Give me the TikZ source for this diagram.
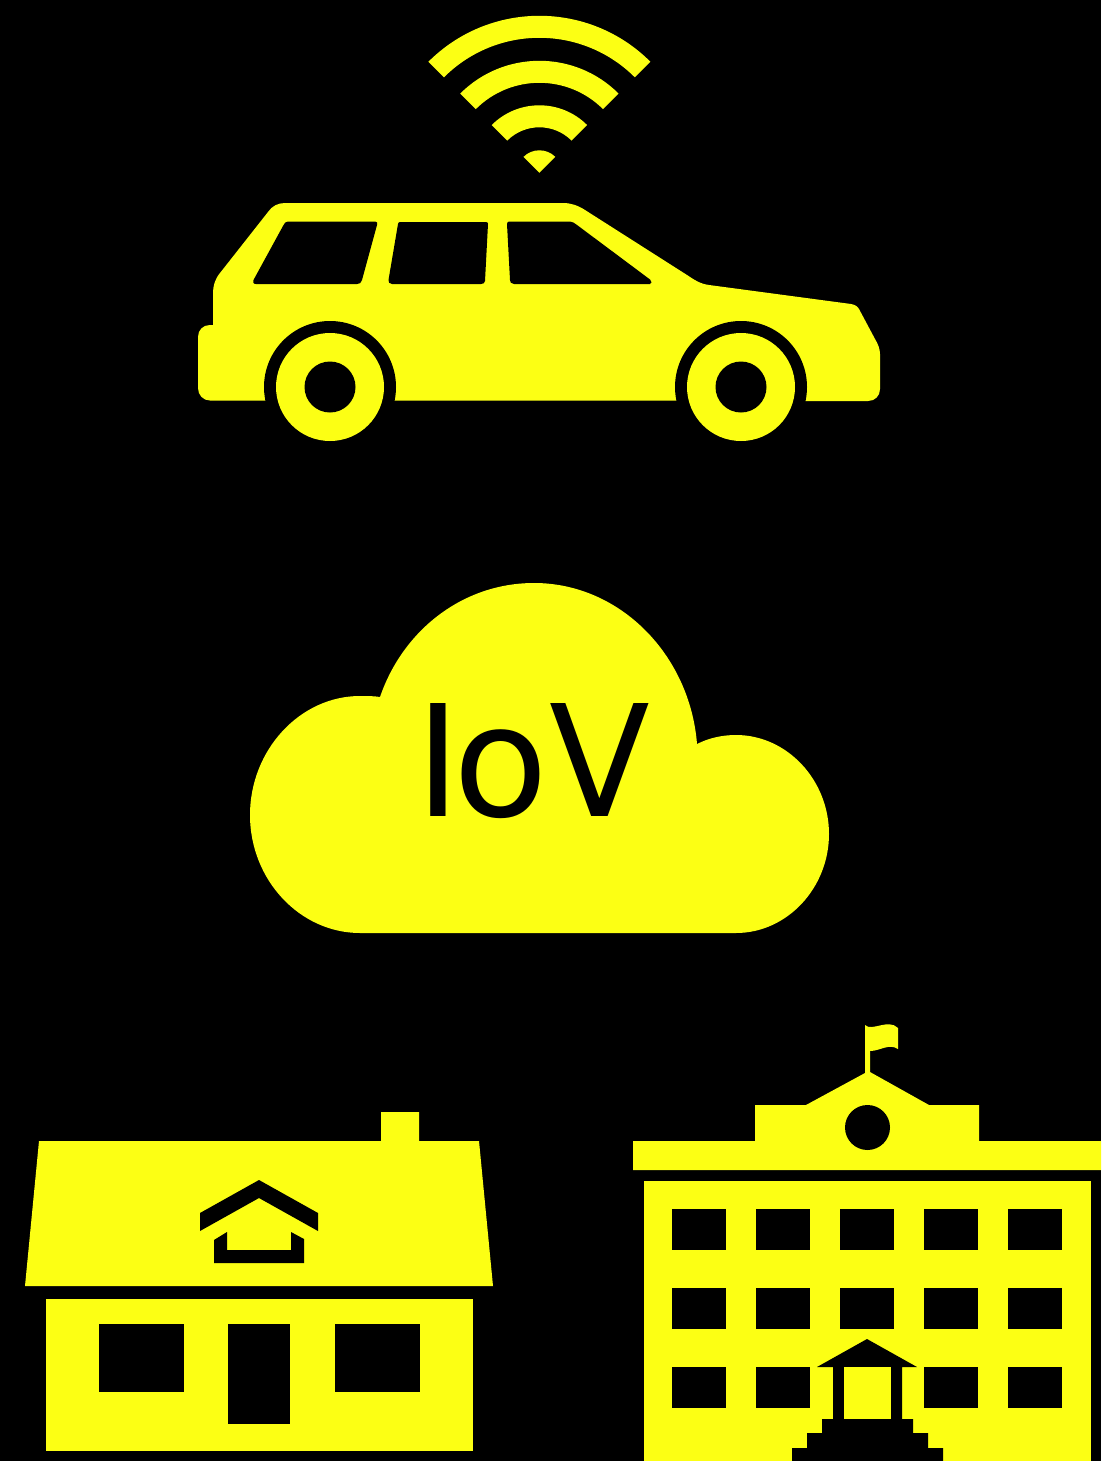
\documentclass[tikz,border=0pt]{standalone}
\usepackage{fontspec}
\usepackage{graphicx}
\setmainfont{DejaVu Sans}
\definecolor{iconyellow}{RGB}{252,255,20}
\tikzset{
  yel/.style={fill=iconyellow,draw=none},
  blk/.style={fill=black,draw=none}
}
\newcommand{\wifiband}[2]{%
  \fill[iconyellow] ($(539.4,172.8)+(225:#1)$) arc[start angle=225,end angle=315,radius=#1] -- ($(539.4,172.8)+(315:#2)$) arc[start angle=315,end angle=225,radius=#2] -- cycle;}
\usetikzlibrary{calc}
\begin{document}
\begin{tikzpicture}[x=1pt,y=1pt,yscale=-1]
\useasboundingbox (0,0) rectangle (1101,1461);
\fill[black] (0,0) rectangle (1101,1461);
% wifi
\wifiband{157pt}{135pt}
\wifiband{112pt}{90pt}
\wifiband{67.5pt}{45.5pt}
\fill[iconyellow] (539.4,172.8) -- ($(539.4,172.8)+(225:22.5pt)$) arc[start angle=225,end angle=315,radius=22.5pt] -- cycle;
% car body
\path[yel] (198,337) .. controls (198,330) and (203,325) .. (210,325) -- (213,325)
 -- (213,293) .. controls (213,286) and (215,279) .. (220,273)
 -- (268,212) .. controls (272,206) and (278,203) .. (285,203)
 -- (563,203) .. controls (571,203) and (578,205.5) .. (585,210)
 -- (687,275) .. controls (693,279) and (700,284) .. (709,285)
 -- (851,304) .. controls (855,304.5) and (858,307) .. (859,309)
 -- (875,339) .. controls (878,344) and (880,349) .. (880,354)
 -- (880,389) .. controls (880,396) and (875,401) .. (868,401)
 -- (741,401) -- (741,400.5) -- (210,400.5) .. controls (203,400.5) and (198,395) .. (198,388) -- cycle;
% windows
\path[blk] (288,221.5) -- (375,221.5) .. controls (377,221.5) and (378,223) .. (377,225)
 -- (362,280) .. controls (361,283) and (360,284) .. (357,284) -- (256,284) .. controls (253,284) and (252.5,282) .. (253.5,280)
 -- (283,226) .. controls (284,223) and (286,221.5) .. (288,221.5) -- cycle;
\path[blk] (400,222) -- (486,222) .. controls (487.5,222) and (488,223) .. (488,224)
 -- (485,281) .. controls (485,283) and (483,284) .. (481,284) -- (392,284) .. controls (389.5,284) and (388,282) .. (388.5,280)
 -- (398,224) .. controls (398,223) and (399,222) .. (400,222) -- cycle;
\path[blk] (509,221.5) -- (568,221.5) .. controls (572,221.5) and (575,223) .. (577,225)
 -- (650,279.5) .. controls (652,281) and (652,284) .. (650,284) -- (514,284) .. controls (511,284) and (510,282) .. (510,280)
 -- (507,224) .. controls (507,222.5) and (508,221.5) .. (509,221.5) -- cycle;
% wheels
\foreach \cx in {330,741}{
  \fill[black] (\cx,387) circle[radius=66pt];
}
\fill[black] (250,401) rectangle (410,445);
\fill[black] (660,401.5) rectangle (820,445);
\foreach \cx in {330,741}{
  \fill[iconyellow] (\cx,387) circle[radius=54pt];
  \fill[black] (\cx,387) circle[radius=25.5pt];
}
% cloud
\path[yel] (360,933) .. controls (300,933) and (250,880) .. (250,815)
 .. controls (250,750) and (300,696) .. (360,696)
 .. controls (367,696) and (374,696) .. (380,697)
 .. controls (403,630) and (463,583) .. (534,583)
 .. controls (620,583) and (690,655) .. (697,744)
 .. controls (709,738) and (722,735) .. (736,735)
 .. controls (787,735) and (829,780) .. (829,834)
 .. controls (829,888) and (787,933) .. (736,933) -- cycle;
\node[anchor=base west,inner sep=0pt,text=black,font=\fontsize{155}{155}\selectfont] (iov) at (415,816) {I\kern-7.5pt o\kern1.5pt\scalebox{0.95}[1]{V}};
% house
\path[yel] (39,1141) -- (381,1141) -- (381,1112) -- (419,1112) -- (419,1141) -- (479,1141) -- (493,1286) -- (25,1286) -- cycle;
\path[yel] (46,1299) rectangle (473,1451);
\path[blk] (99,1324) rectangle (184,1392);
\path[blk] (228,1324) rectangle (290,1424);
\path[blk] (335,1324) rectangle (420,1392);
\path[blk] (259,1180) -- (318,1213) -- (318,1231) -- (259,1198) -- (200,1231) -- (200,1213) -- cycle;
\path[blk] (214,1240) -- (227,1232) -- (227,1250) -- (291,1250) -- (291,1232) -- (304,1239) -- (304,1263) -- (214,1263) -- cycle;
% school
\path[yel] (633,1141) -- (755,1141) -- (755,1105) -- (806,1105) -- (865,1073) -- (865,1025)
 .. controls (872,1032) and (888,1018) .. (898,1028) -- (898,1049)
 .. controls (889,1043) and (880,1051) .. (870,1051) -- (870,1072)
 -- (929,1105) -- (979,1105) -- (979,1141) -- (1101,1141) -- (1101,1170) -- (633,1170) -- cycle;
\fill[black] (867.5,1127.5) circle[radius=22.5pt];
\path[yel] (644,1181) rectangle (1091,1461);
\foreach \wx/\wy in {672/1209,756/1209,840/1209,924/1209,1008/1209,
                     672/1288,756/1288,840/1288,924/1288,1008/1288,
                     672/1367,756/1367,924/1367,1008/1367}{
  \path[blk] (\wx,\wy) rectangle ++(54,41);
}
\path[blk] (867,1339) -- (917,1367) -- (902,1367) -- (902,1419) -- (913,1419) -- (913,1433) -- (928,1433) -- (928,1448) -- (943,1448) -- (943,1461)
 -- (792,1461) -- (792,1448) -- (807,1448) -- (807,1433) -- (822,1433) -- (822,1419) -- (833,1419) -- (833,1367) -- (817,1367) -- cycle;
\path[yel] (844,1367) rectangle (891,1419);
\end{tikzpicture}
\end{document}
